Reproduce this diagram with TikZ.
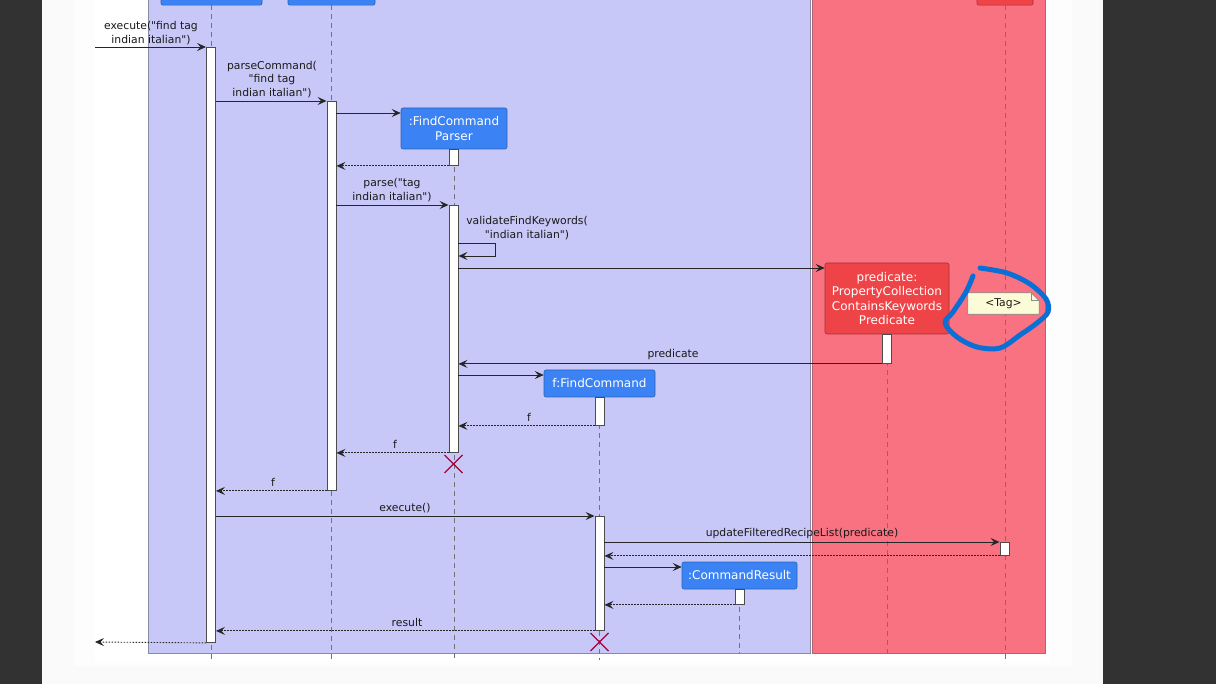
\documentclass[tikz,border=0pt]{standalone}
\usepackage{fontspec}
\setmainfont{DejaVu Sans}
\newfontfamily\plainsans{DejaVu Sans}
\usetikzlibrary{arrows.meta}
\definecolor{darkside}{HTML}{323232}
\definecolor{pagegray}{HTML}{FAFAFA}
\definecolor{pagelight}{HTML}{FDFDFD}
\definecolor{lavender}{HTML}{C8C8F8}
\definecolor{lavborder}{HTML}{8A8AA6}
\definecolor{rosegroup}{HTML}{F97281}
\definecolor{roseborder}{HTML}{B0646E}
\definecolor{partblue}{HTML}{3B83F4}
\definecolor{partred}{HTML}{EF4447}
\definecolor{notefill}{HTML}{FBFBD8}
\definecolor{killred}{HTML}{A80036}
\definecolor{scribble}{HTML}{0A70D6}
\tikzset{
  lifeline/.style={draw=black!55, dash pattern=on 5pt off 4pt, line width=0.8pt},
  actbar/.style={draw=black!70, fill=white, line width=0.9pt, minimum width=9pt, inner sep=0pt, anchor=north},
  bluepart/.style={fill=partblue, draw=partblue!75!black, rounded corners=2pt, text=white,
    font=\plainsans\fontsize{12}{14.5}\selectfont, align=center, inner sep=0pt, line width=0.6pt},
  redpart/.style={bluepart, fill=partred, draw=partred!70!black},
  call/.style={draw=black!85, line width=0.9pt, -{Stealth[length=9pt,width=8pt,inset=3.5pt]}},
  ret/.style={call, dash pattern=on 1.5pt off 1.5pt},
  lbl/.style={font=\plainsans\fontsize{10.8}{13.5}\selectfont, inner sep=0pt, align=center, text=black!90},
  kill/.style={draw=killred, line width=1.4pt}
}
\begin{document}
\begin{tikzpicture}[x=1pt,y=-1pt]
\useasboundingbox (0,0) rectangle (1216,684);
\clip (0,0) rectangle (1216,684);
% page background
\fill[darkside] (0,0) rectangle (42,684);
\fill[darkside] (1103,0) rectangle (1216,684);
\fill[pagegray] (42,0) rectangle (1103,684);
\fill[pagelight] (74,0) rectangle (1072,666);
\fill[white] (95,0) rectangle (1050,663);
% groups
\draw[fill=lavender, draw=lavborder, line width=0.8pt] (148,-5) rectangle (810.5,653);
\draw[fill=rosegroup, draw=roseborder, line width=0.8pt] (812.5,-5) rectangle (1045.5,653);
% top participants (cut off)
\node[bluepart, minimum width=101pt, minimum height=30pt, anchor=south] (p1) at (211.5,5.5) {};
\node[bluepart, minimum width=87pt, minimum height=30pt, anchor=south] (p2) at (331.5,5.5) {};
\node[redpart, minimum width=56pt, minimum height=30pt, anchor=south] (p5) at (1005,5.5) {};
% created participants
\node[bluepart, minimum width=106pt, minimum height=41pt] (fcp) at (454,128.5) {:FindCommand\\Parser};
\node[redpart, minimum width=124pt, minimum height=71pt] (pred) at (887,298.5) {predicate:\\PropertyCollection\\ContainsKeywords\\Predicate};
\node[bluepart, minimum width=111pt, minimum height=27pt] (fc) at (599.5,383.5) {f:FindCommand};
\node[bluepart, minimum width=115pt, minimum height=27pt] (cr) at (739.5,575.5) {:CommandResult};
% lifelines
\draw[lifeline] (p1.south) -- (p1.south |- 0,659);
\draw[lifeline] (p2.south) -- (p2.south |- 0,659);
\draw[lifeline] (fcp.south) -- (fcp.south |- 0,660);
\draw[lifeline] (pred.south) -- (pred.south |- 0,653);
\draw[lifeline] (p5.south) -- (p5.south |- 0,659);
\draw[lifeline] (fc.south) -- (fc.south |- 0,660);
\draw[lifeline] (cr.south) -- (cr.south |- 0,653);
% activation bars
\node[actbar, minimum height=595pt] (a1) at (211,47) {};
\node[actbar, minimum height=389pt] (a2) at (331.5,101) {};
\node[actbar, minimum height=16pt] (a3) at (453.5,149) {};
\node[actbar, minimum height=247pt] (a4) at (453.5,205) {};
\node[actbar, minimum height=29pt] (a5) at (886.5,334) {};
\node[actbar, minimum height=28pt] (a6) at (599.5,397) {};
\node[actbar, minimum height=114pt] (a7) at (599.5,516) {};
\node[actbar, minimum height=13pt] (a8) at (1004.5,542) {};
\node[actbar, minimum height=15pt] (a9) at (739.5,589) {};
% free ends
\coordinate (inp) at (95,47);
\coordinate (outp) at (95,642);
% messages
\draw[call] (inp) -- (a1.north west);
\node[lbl, anchor=south] (l1) at (151,45) {execute("find tag\\indian italian")};
\draw[call] (a1.east |- a2.north) -- (a2.north west);
\node[lbl, anchor=south] (l2) at (272,98) {parseCommand(\\"find tag\\indian italian")};
\draw[call] (a2.east |- 0,113) -- (fcp.west |- 0,113);
\draw[ret] (a3.south west) -- (a2.east |- a3.south);
\draw[call] (a2.east |- a4.north) -- (a4.north west);
\node[lbl, anchor=south] (l5) at (392,202) {parse("tag\\indian italian")};
\draw[call] (a4.east |- 0,243) -- ++(37,0) -- ++(0,13) -- (a4.east |- 0,256);
\node[lbl, anchor=south] (l6) at (527,240) {validateFindKeywords(\\"indian italian")};
\draw[call] (a4.east |- 0,268) -- (pred.west |- 0,268);
\draw[call] (a5.south west) -- (a4.east |- a5.south);
\node[lbl, anchor=south] (l8) at (673,360) {predicate};
\draw[call] (a4.east |- 0,375) -- (fc.west |- 0,375);
\draw[ret] (a6.south west) -- (a4.east |- a6.south);
\node[lbl, anchor=south] (l10) at (529,422) {f};
\draw[ret] (a4.south west) -- (a2.east |- a4.south);
\node[lbl, anchor=south] (l11) at (395,449) {f};
\draw[ret] (a2.south west) -- (a1.east |- a2.south);
\node[lbl, anchor=south] (l13) at (273,487) {f};
\draw[call] (a1.east |- a7.north) -- (a7.north west);
\node[lbl, anchor=south] (l14) at (405,513) {execute()};
\draw[call] (a7.east |- a8.north) -- (a8.north west);
\node[lbl, anchor=south] (l15) at (802,539) {updateFilteredRecipeList(predicate)};
\draw[ret] (a8.south west) -- (a7.east |- a8.south);
\draw[call] (a7.east |- 0,567) -- (cr.west |- 0,567);
\draw[ret] (a9.south west) -- (a7.east |- a9.south);
\draw[ret] (a7.south west) -- (a1.east |- a7.south);
\node[lbl, anchor=south] (l19) at (407,627) {result};
\draw[ret] (a1.south west) -- (outp);
% destroy marks
\coordinate (x1) at (453.5,464);
\coordinate (x2) at (599.5,642);
\draw[kill] (x1) +(-9,-9) -- +(9,9) (x1) +(-9,9) -- +(9,-9);
\draw[kill] (x2) +(-9,-9) -- +(9,9) (x2) +(-9,9) -- +(9,-9);
% note
\node[minimum width=71pt, minimum height=21pt, inner sep=0pt] (note) at (1003.5,303.5) {};
\filldraw[fill=notefill, draw=black!45, line width=0.7pt]
  (note.south west) -- (note.north west) -- ([xshift=-8pt]note.north east)
  -- ([yshift=-8pt]note.north east) -- (note.south east) -- cycle;
\draw[black!45, line width=0.7pt] ([xshift=-8pt]note.north east) -- ([xshift=-8pt,yshift=-8pt]note.north east) -- ([yshift=-8pt]note.north east);
\node[lbl] (notetext) at (note.center) {<Tag>};
% hand-drawn circle
\draw[scribble, line width=5pt, line cap=round, line join=round]
  plot[smooth, tension=0.55] coordinates {(980,268) (1007,273) (1030,284) (1046,299) (1048,312) (1037,323) (1020,335) (1000,348) (977,347) (957,337) (945,323) (953,312) (966,292) (973,276)};
\end{tikzpicture}
\end{document}
